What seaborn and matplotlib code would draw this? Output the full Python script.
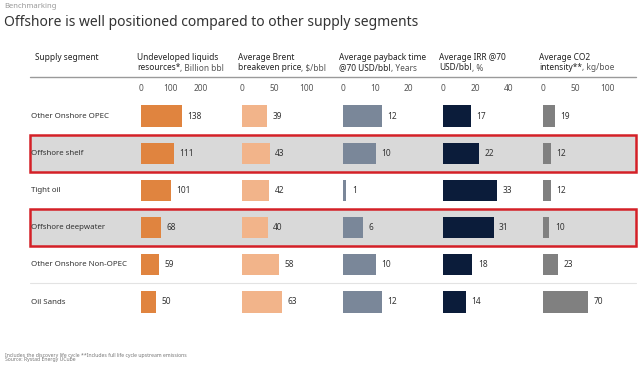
import matplotlib
matplotlib.use("Agg")
import matplotlib.pyplot as plt
import seaborn as sns
import pandas as pd
from matplotlib.patches import Rectangle

segments = ["Other Onshore OPEC", "Offshore shelf", "Tight oil",
            "Offshore deepwater", "Other Onshore Non-OPEC", "Oil Sands"]
resources = [138, 111, 101, 68, 59, 50]
breakeven = [39, 43, 42, 40, 58, 63]
payback = [12, 10, 1, 6, 10, 12]
irr = [17, 22, 33, 31, 18, 14]
co2 = [19, 12, 12, 10, 23, 70]
highlighted = ["Offshore shelf", "Offshore deepwater"]

ticks = [[0, 100, 200], [0, 50, 100], [0, 10, 20], [0, 20, 40], [0, 50, 100]]
headers = [
    ("Undeveloped liquids", "resources*", ", Billion bbl"),
    ("Average Brent", "breakeven price", ", $/bbl"),
    ("Average payback time", "@70 USD/bbl", ", Years"),
    ("Average IRR @70", "USD/bbl", ", %"),
    ("Average CO2", "intensity**", ", kg/boe"),
]

sns.set_style("white")
plt.rcParams["font.family"] = ["Noto Sans", "DejaVu Sans"]

W, H = 640, 365
fig = plt.figure(figsize=(6.4, 3.65), dpi=100)

def fx(px):
    return px / W

def fy(py):
    return 1 - py / H

# layout in pixels
row_top, row_bot = 97.4, 320.6
panel_x = [141, 242, 343, 443, 543]
px_per_unit = [0.298, 0.64, 3.25, 1.63, 0.64]
panel_w = 95
colors = ["#E0843F", "#F2B48A", "#7A8799", "#0B1C3A", "#808080"]

df = pd.DataFrame({"segment": segments, "resources": resources,
                   "breakeven": breakeven, "payback": payback,
                   "irr": irr, "co2": co2})
cols = ["resources", "breakeven", "payback", "irr", "co2"]

# background axes for highlight boxes and row labels
bg = fig.add_axes([0, fy(row_bot), 1, fy(row_top) - fy(row_bot)])
bg.set_xlim(0, W)
bg.set_ylim(len(segments) - 0.5, -0.5)
bg.axis("off")
for i, s in enumerate(segments):
    if s in highlighted:
        bg.add_patch(Rectangle((30, i - 0.5), 606, 1.0, facecolor="#d9d9d9",
                               edgecolor="#d42027", linewidth=1.8, zorder=0))
    bg.text(31, i, s, fontsize=5.7, color="#333333", va="center", ha="left", zorder=1)
bg.plot([30, 636], [4.5, 4.5], color="#e3e3e3", lw=0.8)

for k, col in enumerate(cols):
    ax = fig.add_axes([fx(panel_x[k]), fy(row_bot), fx(panel_w),
                       fy(row_top) - fy(row_bot)])
    ax.patch.set_alpha(0)
    sns.barplot(data=df, x=col, y="segment", orient="h", color=colors[k],
                saturation=1, width=0.57, linewidth=0, ax=ax)
    ax.set_xlim(0, panel_w / px_per_unit[k])
    ax.set_xticks(ticks[k])
    ax.xaxis.tick_top()
    ax.tick_params(axis="x", length=0, labelsize=6, labelcolor="#555555", pad=3)
    ax.set_yticks([])
    ax.set_xlabel("")
    ax.set_ylabel("")
    for sp in ax.spines.values():
        sp.set_visible(False)
    ax.bar_label(ax.containers[0], padding=4, fontsize=6, color="#333333")

# titles
fig.text(fx(4), fy(7), "Benchmarking", fontsize=5.5, color="#9a9a9a", va="center")
fig.text(fx(4), fy(22), "Offshore is well positioned compared to other supply segments",
         fontsize=10, color="#333333", va="center")

# headers
renderer = fig.canvas.get_renderer()
fig.text(fx(35), fy(58), "Supply segment", fontsize=6, fontweight="bold",
         color="#222222", va="center")
for k, (l1, l2b, l2n) in enumerate(headers):
    x0 = fx(panel_x[k] - 4)
    fig.text(x0, fy(58), l1, fontsize=6, fontweight="bold", color="#222222", va="center")
    t = fig.text(x0, fy(68), l2b, fontsize=6, fontweight="bold", color="#222222", va="center")
    bb = t.get_window_extent(renderer)
    fig.text(bb.x1 / fig.bbox.width, fy(68), l2n, fontsize=6, color="#555555", va="center")

fig.add_artist(plt.Line2D([fx(30), fx(636)], [fy(77), fy(77)], color="#9a9a9a", lw=1))

# footnotes
fig.text(fx(5), fy(355), "Includes the discovery life cycle **Includes full life cycle upstream emissions",
         fontsize=3.7, color="#777777", va="center")
fig.text(fx(5), fy(360), "Source: Rystad Energy UCube", fontsize=3.7, color="#777777", va="center")

fig.savefig("out.png", dpi=100)
